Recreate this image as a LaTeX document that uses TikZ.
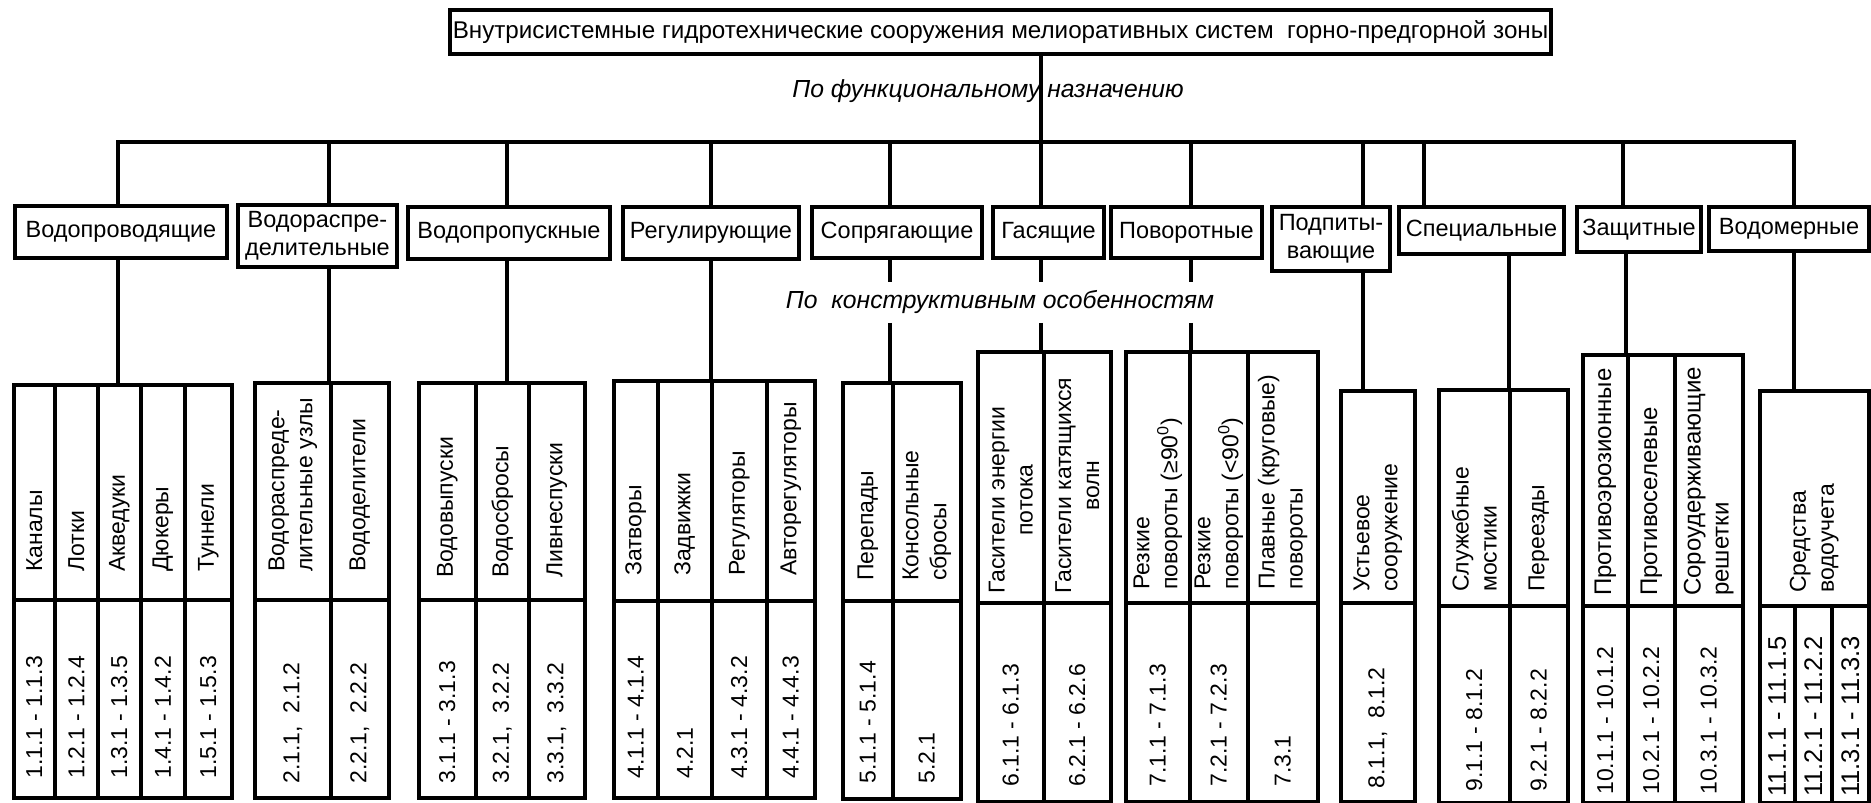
\documentclass[tikz,border=0pt]{standalone}
\usepackage{fontspec}
\setmainfont{Liberation Sans}
\usetikzlibrary{positioning,calc}

\begin{document}
\begin{tikzpicture}[
    x=1pt, y=-1pt,
    line width=3.5pt,
    every node/.style={font=\fontsize{23}{28}\selectfont},
    catbox/.style={draw, align=center, inner sep=0pt, font=\fontsize{23.5}{28}\selectfont},
    cell/.style={draw, inner sep=0pt, anchor=north west},
    vtext/.style={rotate=90, anchor=west, align=left, inner sep=0pt},
    ctext/.style={vtext, align=center},
    note/.style={font=\fontsize{24.7}{28}\selectfont\itshape}
]
    \useasboundingbox (0,0) rectangle (1871,803);

    \node[catbox, minimum width=1101, minimum height=44, font=\fontsize{24.2}{28}\selectfont] (title) at (1000.5,32) {Внутрисистемные гидротехнические сооружения мелиоративных систем~ горно-предгорной зоны};
    \node[note] (func) at (988,91) {По функциональному назначению};
    \node[note, minimum height=37, inner sep=0pt] (konstr) at (1000,302.5) {По~ конструктивным особенностям};

    \node[catbox, minimum width=212, minimum height=52] (cat1) at (121,232) {Водопроводящие};
    \node[catbox, minimum width=159, minimum height=62] (cat2) at (317.5,236) {Водораспре-\\делительные};
    \node[catbox, minimum width=202, minimum height=52] (cat3) at (509,233) {Водопропускные};
    \node[catbox, minimum width=176, minimum height=52] (cat4) at (711,233) {Регулирующие};
    \node[catbox, minimum width=170, minimum height=51] (cat5) at (897,232.5) {Сопрягающие};
    \node[catbox, minimum width=111, minimum height=51] (cat6) at (1048.5,232.5) {Гасящие};
    \node[catbox, minimum width=151, minimum height=51] (cat7) at (1186.5,232.5) {Поворотные};
    \node[catbox, minimum width=118, minimum height=64] (cat8) at (1331,239) {Подпиты-\\вающие};
    \node[catbox, minimum width=165, minimum height=47] (cat9) at (1481.5,230.5) {Специальные};
    \node[catbox, minimum width=124, minimum height=45] (cat10) at (1639,229.5) {Защитные};
    \node[catbox, minimum width=160, minimum height=44] (cat11) at (1789,229) {Водомерные};

    \foreach \xa/\xb/\head/\num [count=\i] in {12/53/Каналы/1.1.1 - 1.1.3, 53/96/Лотки/1.2.1 - 1.2.4,
        96/139/Акведуки/1.3.1 - 1.3.5, 139/183/Дюкеры/1.4.1 - 1.4.2, 183/230/Туннели/1.5.1 - 1.5.3}{
        \node[cell, minimum width=\xb-\xa, minimum height=215] (g1-\i) at (\xa,383) {};
        \node[cell, minimum width=\xb-\xa, minimum height=198] (v1-\i) at (\xa,598) {};
        \node[vtext] at ([yshift=28pt]g1-\i.south) {\head};
        \node[vtext] at ([yshift=19pt]v1-\i.south) {\num};
    }
    \foreach \xa/\xb/\head/\num [count=\i] in {253/329/{Водораспреде-\\лительные узлы}/{2.1.1,~ 2.1.2},
        329/387/Вододелители/{2.2.1,~ 2.2.2}}{
        \node[cell, minimum width=\xb-\xa, minimum height=217] (g2-\i) at (\xa,381) {};
        \node[cell, minimum width=\xb-\xa, minimum height=198] (v2-\i) at (\xa,598) {};
        \node[vtext] at ([yshift=28pt]g2-\i.south) {\head};
        \node[vtext] at ([yshift=14pt]v2-\i.south) {\num};
    }
    \foreach \xa/\xb/\head/\num [count=\i] in {417/474/Водовыпуски/3.1.1 - 3.1.3,
        474/527/Водосбросы/{3.2.1,~ 3.2.2}, 527/583/Ливнеспуски/{3.3.1,~ 3.3.2}}{
        \node[cell, minimum width=\xb-\xa, minimum height=217] (g3-\i) at (\xa,381) {};
        \node[cell, minimum width=\xb-\xa, minimum height=198] (v3-\i) at (\xa,598) {};
        \node[vtext] at ([yshift=22pt]g3-\i.south) {\head};
        \node[vtext] at ([yshift=14pt]v3-\i.south) {\num};
    }
    \foreach \xa/\xb/\head/\num [count=\i] in {612/656/Затворы/4.1.1 - 4.1.4, 656/710/Задвижки/4.2.1,
        710/765/Регуляторы/4.3.1 - 4.3.2, 765/813/Авторегуляторы/4.4.1 - 4.4.3}{
        \node[cell, minimum width=\xb-\xa, minimum height=220] (g4-\i) at (\xa,379) {};
        \node[cell, minimum width=\xb-\xa, minimum height=197] (v4-\i) at (\xa,599) {};
        \node[vtext] at ([yshift=25pt]g4-\i.south) {\head};
        \node[vtext] at ([yshift=19pt]v4-\i.south) {\num};
    }
    \foreach \xa/\xb/\head/\num [count=\i] in {841/891/Перепады/5.1.1 - 5.1.4, 891/959/{Консольные\\сбросы}/5.2.1}{
        \node[cell, minimum width=\xb-\xa, minimum height=218] (g5-\i) at (\xa,381) {};
        \node[cell, minimum width=\xb-\xa, minimum height=198] (v5-\i) at (\xa,599) {};
        \node[vtext] at ([yshift=20pt]g5-\i.south) {\head};
        \node[vtext] at ([yshift=15pt]v5-\i.south) {\num};
    }
    \foreach \xa/\xb/\head/\num [count=\i] in {976/1042/{Гасители энергии\\потока}/6.1.1 - 6.1.3,
        1042/1109/{Гасители катящихся\\волн}/6.2.1 - 6.2.6}{
        \node[cell, minimum width=\xb-\xa, minimum height=251] (g6-\i) at (\xa,350) {};
        \node[cell, minimum width=\xb-\xa, minimum height=199] (v6-\i) at (\xa,601) {};
        \node[ctext] at ([yshift=9pt]g6-\i.south) {\head};
        \node[vtext] at ([yshift=15pt]v6-\i.south) {\num};
    }
    \foreach \xa/\xb/\head/\num [count=\i] in {1124/1188/{Резкие\\повороты (≥90\textsuperscript{0})}/7.1.1 - 7.1.3,
        1188/1246/{Резкие\\повороты (<90\textsuperscript{0})}/7.2.1 - 7.2.3,
        1246/1316/{Плавные (круговые)\\повороты}/7.3.1}{
        \node[cell, minimum width=\xb-\xa, minimum height=251] (g7-\i) at (\xa,350) {};
        \node[cell, minimum width=\xb-\xa, minimum height=199] (v7-\i) at (\xa,601) {};
        \node[vtext] at ([yshift=13pt]g7-\i.south) {\head};
        \node[vtext] at ([yshift=15pt]v7-\i.south) {\num};
    }
    \foreach \xa/\xb/\head/\num [count=\i] in {1339/1413/{Устьевое\\сооружение}/{8.1.1,~ 8.1.2}}{
        \node[cell, minimum width=\xb-\xa, minimum height=212] (g8-\i) at (\xa,389) {};
        \node[cell, minimum width=\xb-\xa, minimum height=199] (v8-\i) at (\xa,601) {};
        \node[vtext] at ([yshift=11pt]g8-\i.south) {\head};
        \node[vtext] at ([yshift=13pt]v8-\i.south) {\num};
    }
    \foreach \xa/\xb/\head/\num [count=\i] in {1437/1508/{Служебные\\мостики}/9.1.1 - 8.1.2,
        1508/1566/Переезды/9.2.1 - 8.2.2}{
        \node[cell, minimum width=\xb-\xa, minimum height=216] (g9-\i) at (\xa,388) {};
        \node[cell, minimum width=\xb-\xa, minimum height=197] (v9-\i) at (\xa,604) {};
        \node[vtext] at ([yshift=14pt]g9-\i.south) {\head};
        \node[vtext] at ([yshift=11pt]v9-\i.south) {\num};
    }
    \foreach \xa/\xb/\head/\num [count=\i] in {1581/1626/Противоэрозионные/10.1.1 - 10.1.2,
        1626/1673/Противоселевые/10.2.1 - 10.2.2, 1673/1741/{Сороудерживающие\\решетки}/10.3.1 - 10.3.2}{
        \node[cell, minimum width=\xb-\xa, minimum height=251] (g10-\i) at (\xa,353) {};
        \node[cell, minimum width=\xb-\xa, minimum height=197] (v10-\i) at (\xa,604) {};
        \node[vtext, font=\fontsize{24}{28}\selectfont] at ([yshift=10pt]g10-\i.south) {\head};
        \node[vtext] at ([yshift=8pt]v10-\i.south) {\num};
    }
    \node[cell, minimum width=109, minimum height=215] (g11-1) at (1758,389) {};
    \node[vtext] at ([yshift=13pt]g11-1.south) {Средства\\водоучета};
    \foreach \xa/\xb/\num [count=\i] in {1758/1793/11.1.1 - 11.1.5, 1793/1830/11.2.1 - 11.2.2,
        1830/1867/11.3.1 - 11.3.3}{
        \node[cell, minimum width=\xb-\xa, minimum height=197] (v11-\i) at (\xa,604) {};
        \node[vtext, font=\fontsize{25.5}{28}\selectfont] at ([yshift=6pt]v11-\i.south) {\num};
    }

    \foreach \x [count=\i] in {118,329,507,711,890,1041,1191,1363,1424,1623,1794}
        \coordinate (b\i) at (\x,142);
    \foreach \x [count=\i] in {118,329,507,711,890,1041,1191,1363,1509,1626,1794}
        \coordinate (d\i) at (\x,0);
    \draw (b6 |- title.south) -- (b6);
    \draw (b1 |- cat1.north) -- (b1) -- (b11) -- (b11 |- cat11.north);
    \foreach \i in {2,...,10}
        \draw (b\i) -- (b\i |- cat\i.north);
    \foreach \i in {1,2,3,4,8,9,10,11}
        \draw (d\i |- cat\i.south) -- (d\i |- g\i-1.north);
    \foreach \i in {5,6,7}{
        \draw (d\i |- cat\i.south) -- (d\i |- konstr.north);
        \draw (d\i |- konstr.south) -- (d\i |- g\i-1.north);
    }
\end{tikzpicture}
\end{document}
